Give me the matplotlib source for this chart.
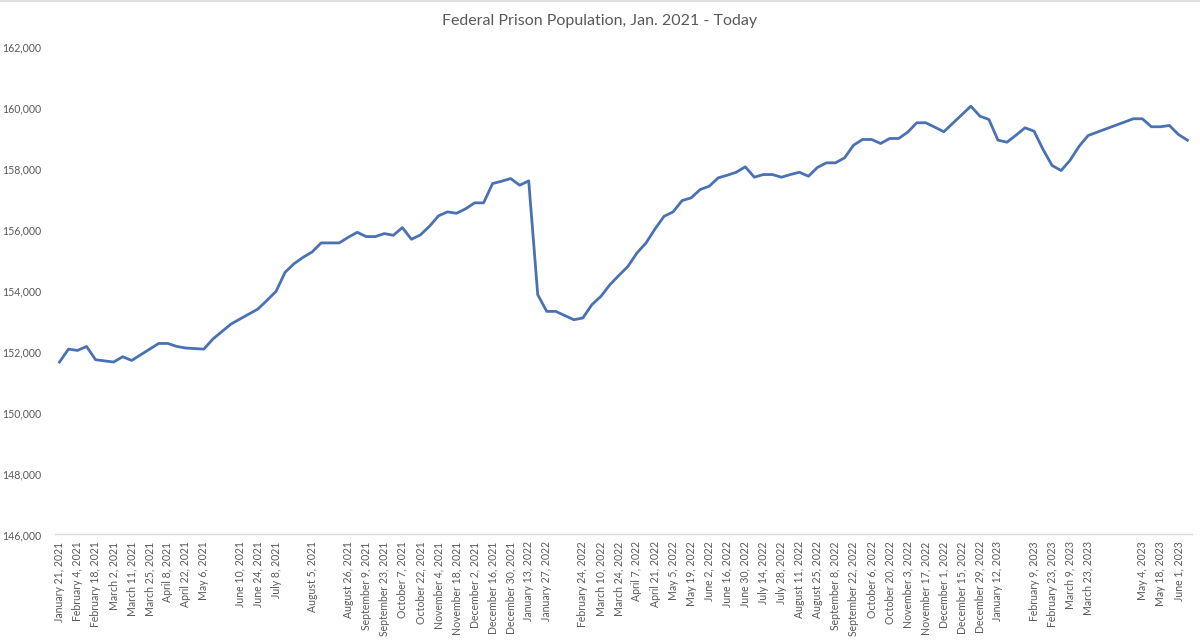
import numpy as np
import matplotlib
matplotlib.use("Agg")
import matplotlib.pyplot as plt

# Tick labels, one for every second category (blank where the sheet had none)
tick_labels = [
    "January 21, 2021", "February 4, 2021", "February 18, 2021", "March 2, 2021",
    "March 11, 2021", "March 25, 2021", "April 8, 2021", "April 22, 2021",
    "May 6, 2021", "", "June 10, 2021", "June 24, 2021", "July 8, 2021", "",
    "August 5, 2021", "", "August 26, 2021", "September 9, 2021",
    "September 23, 2021", "October 7, 2021", "October 22, 2021",
    "November 4, 2021", "November 18, 2021", "December 2, 2021",
    "December 16, 2021", "December 30, 2021", "January 13, 2022",
    "January 27, 2022", "", "February 24, 2022", "March 10, 2022",
    "March 24, 2022", "April 7, 2022", "April 21, 2022", "May 5, 2022",
    "May 19, 2022", "June 2, 2022", "June 16, 2022", "June 30, 2022",
    "July 14, 2022", "July 28, 2022", "August 11, 2022", "August 25, 2022",
    "September 8, 2022", "September 22, 2022", "October 6, 2022",
    "October 20, 2022", "November 3, 2022", "November 17, 2022",
    "December 1, 2022", "December 15, 2022", "December 29, 2022",
    "January 12, 2023", "", "February 9, 2023", "February 23, 2023",
    "March 9, 2023", "March 23, 2023", "", "", "May 4, 2023", "May 18, 2023",
    "June 1, 2023",
]

# Population per category (None = no value, line joins neighbours)
population = [
    151655, 152080, 152036, 152167, 151731, None, 151655, 151830, 151708, None,
    None, 152266, 152266, 152167, 152115, None, 152080, 152410, None, 152900,
    153067, None, 153396, 153680, 153974, 154598, 154883, 155090, 155267, 155563,
    155563, 155563, 155747, 155911, 155770, 155770, 155869, 155813, 156066, 155682,
    155826, 156108, 156450, 156581, 156535, 156680, 156877, 156877, 157511, 157586,
    157675, 157455, 157599, 153865, 153317, 153317, None, 153044, 153100, 153537,
    153810, 154194, 154499, 154795, 155235, 155563, 156023, 156437, 156581, 156952,
    157041, 157314, 157422, 157698, 157783, 157882, 158059, 157718, 157806, 157806,
    157718, 157806, 157882, 157750, 158040, 158190, 158190, 158355, 158769, 158956,
    158956, 158824, 158989, 158989, 159195, 159504, 159504, 159360, 159209, None,
    None, 160049, 159721, 159612, 158933, 158867, 159097, 159340, 159228, 158627,
    158102, 157938, 158276, 158736, 159087, None, None, None, None, 159635,
    159635, 159373, 159373, 159415, 159120, 158933,
]

y_ticks = [146000, 148000, 150000, 152000, 154000, 156000, 158000, 160000, 162000]

plt.rcParams["font.family"] = ["Lato", "DejaVu Sans"]
TXT = "#595959"

vals = np.array([np.nan if v is None else v for v in population], dtype=float)
cats = np.arange(len(vals))
ok = ~np.isnan(vals)

fig = plt.figure(figsize=(12, 6.42), dpi=100)
ax = fig.add_axes([0.0458, 0.1675, 0.9475, 0.7598])

ax.plot(cats[ok], vals[ok], color="#4A71B4", linewidth=2.0, solid_joinstyle="round")

ax.set_xlim(-0.5, len(vals) - 0.5)
ax.set_ylim(146000, 162000)
ax.set_yticks(y_ticks)
ax.set_yticklabels([f"{t:,}" for t in y_ticks], color=TXT, fontsize=7.6)
ax.set_xticks(cats[::2][:len(tick_labels)])
ax.set_xticklabels(tick_labels, rotation=90, color=TXT, fontsize=7.6)
ax.tick_params(axis="both", length=0)
ax.tick_params(axis="y", pad=10)
ax.tick_params(axis="x", pad=5)

for side in ["top", "right", "left"]:
    ax.spines[side].set_visible(False)
ax.spines["bottom"].set_color("#D9D9D9")
ax.spines["bottom"].set_linewidth(1.0)

fig.text(0.5, 0.968, "Federal Prison Population, Jan. 2021 - Today",
         ha="center", va="center", fontsize=11.5, color=TXT)

# chart border along the top edge
fig.add_artist(plt.Line2D([0, 1], [0.999, 0.999], color="#D9D9D9", linewidth=1.2))

fig.savefig("out.png", dpi=100)
